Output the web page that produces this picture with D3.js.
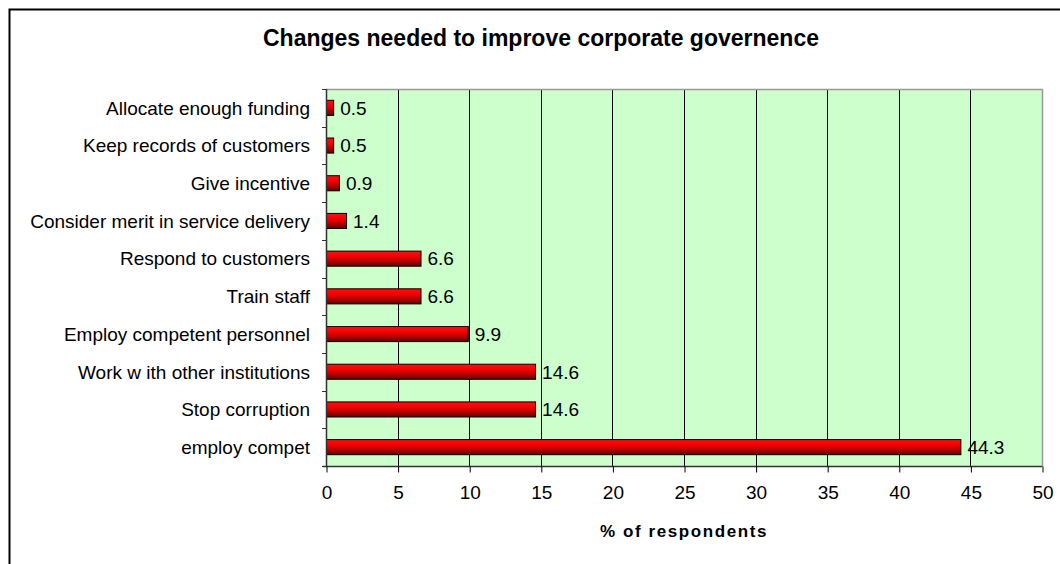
<!DOCTYPE html>
<html>
<head>
<meta charset="utf-8">
<script src="https://cdn.jsdelivr.net/npm/d3@7"></script>
<style>
  html, body { margin: 0; padding: 0; background: #fff; }
  svg { display: block; font-family: "Liberation Sans", Arial, sans-serif; }
</style>
</head>
<body>
<svg id="chart" width="1060" height="564"></svg>
<script>
const categories = [
  "Allocate enough funding",
  "Keep records of customers",
  "Give incentive",
  "Consider merit in service delivery",
  "Respond to customers",
  "Train staff",
  "Employ competent personnel",
  "Work w ith other institutions",
  "Stop corruption",
  "employ compet"
];
const values = [0.5, 0.5, 0.9, 1.4, 6.6, 6.6, 9.9, 14.6, 14.6, 44.3];
const xTicks = [0, 5, 10, 15, 20, 25, 30, 35, 40, 45, 50];
const chartTitle = "Changes needed to improve corporate governence";
const xTitle = "% of respondents";

const svg = d3.select("#chart");
const plot = { left: 326, right: 1042, top: 89, bottom: 466 };

// outer frame
svg.append("rect")
  .attr("x", 9.5).attr("y", 9.5)
  .attr("width", 1200).attr("height", 800)
  .attr("fill", "#fff").attr("stroke", "#000").attr("stroke-width", 2);

const defs = svg.append("defs");
const grad = defs.append("linearGradient")
  .attr("id", "barGrad").attr("x1", 0).attr("y1", 0).attr("x2", 0).attr("y2", 1);
grad.append("stop").attr("offset", "0%").attr("stop-color", "#ff1010");
grad.append("stop").attr("offset", "40%").attr("stop-color", "#f00000");
grad.append("stop").attr("offset", "100%").attr("stop-color", "#660000");

const x = d3.scaleLinear().domain([0, 50]).range([plot.left, plot.right]);
const y = d3.scaleBand().domain(categories).range([plot.top, plot.bottom]).paddingInner(0.6).paddingOuter(0.3);

// plot background
svg.append("rect")
  .attr("x", plot.left).attr("y", plot.top)
  .attr("width", plot.right - plot.left).attr("height", plot.bottom - plot.top)
  .attr("fill", "#ccffcc");

// gridlines
svg.append("g").selectAll("line")
  .data(xTicks.filter(d => d > 0 && d < 50))
  .join("line")
  .attr("x1", d => Math.round(x(d)) + 0.5).attr("x2", d => Math.round(x(d)) + 0.5)
  .attr("y1", plot.top).attr("y2", plot.bottom)
  .attr("stroke", "#000").attr("stroke-width", 1);

// plot border (top & right gray)
svg.append("path")
  .attr("d", `M${plot.left},${plot.top + 0.5}H${plot.right + 0.5}V${plot.bottom}`)
  .attr("fill", "none").attr("stroke", "#999").attr("stroke-width", 1.5);

// bars
svg.append("g").selectAll("rect")
  .data(values)
  .join("rect")
  .attr("x", x(0) + 0.5)
  .attr("y", (d, i) => y(categories[i]))
  .attr("width", d => x(d) - x(0))
  .attr("height", y.bandwidth())
  .attr("fill", "url(#barGrad)")
  .attr("stroke", "#000").attr("stroke-width", 1);

// value labels
svg.append("g").selectAll("text")
  .data(values)
  .join("text")
  .attr("x", d => x(d) + 7)
  .attr("y", (d, i) => y(categories[i]) + y.bandwidth() / 2)
  .attr("dy", "0.36em")
  .attr("font-size", 19)
  .attr("fill", "#000")
  .text(d => d.toFixed(1));

// x axis
const xAxis = d3.axisBottom(x).tickValues(xTicks).tickSize(6).tickPadding(13.5).tickFormat(d3.format("d"));
const gx = svg.append("g").attr("transform", `translate(0.5,${plot.bottom + 0.5})`).call(xAxis);
gx.select(".domain").attr("stroke", "#333").attr("stroke-width", 1.5).attr("d", `M${plot.left - 4},0H${plot.right}`);
gx.selectAll(".tick line").attr("stroke", "#000");
gx.selectAll(".tick text").attr("font-size", 19).attr("fill", "#000")
  .attr("font-family", "Liberation Sans, Arial, sans-serif");

// y axis
const yTickScale = d3.scaleLinear().domain([0, categories.length]).range([plot.top, plot.bottom]);
const yAxisG = svg.append("g");
yAxisG.append("line")
  .attr("x1", plot.left + 0.5).attr("x2", plot.left + 0.5)
  .attr("y1", plot.top).attr("y2", plot.bottom)
  .attr("stroke", "#333").attr("stroke-width", 1.5);
yAxisG.selectAll("line.tk")
  .data(d3.range(categories.length + 1))
  .join("line").attr("class", "tk")
  .attr("x1", plot.left - 4).attr("x2", plot.left)
  .attr("y1", d => Math.round(yTickScale(d)) + 0.5).attr("y2", d => Math.round(yTickScale(d)) + 0.5)
  .attr("stroke", "#333");
yAxisG.selectAll("text")
  .data(categories)
  .join("text")
  .attr("x", 310)
  .attr("y", d => y(d) + y.bandwidth() / 2)
  .attr("dy", "0.36em")
  .attr("text-anchor", "end")
  .attr("font-size", 19)
  .attr("fill", "#000")
  .text(d => d);

// title
svg.append("text")
  .attr("x", 541).attr("y", 46)
  .attr("text-anchor", "middle")
  .attr("font-size", 23).attr("font-weight", "bold")
  .text(chartTitle);

// x title
svg.append("text")
  .attr("x", (plot.left + plot.right) / 2).attr("y", 537)
  .attr("text-anchor", "middle")
  .attr("font-size", 17).attr("font-weight", "bold")
  .attr("letter-spacing", "1.6px")
  .text(xTitle);
</script>
</body>
</html>
